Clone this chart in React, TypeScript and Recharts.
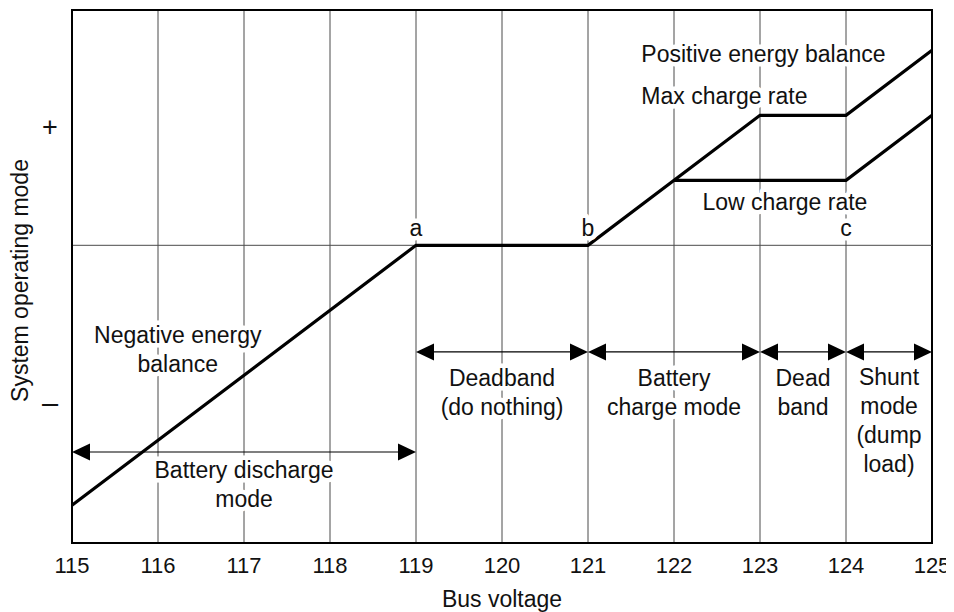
import React from 'react';
import {
  LineChart,
  Line,
  XAxis,
  YAxis,
  CartesianGrid,
  ReferenceLine,
  ReferenceArea,
  ReferenceDot,
} from 'recharts';

// bus voltage ticks
const voltageTicks = [115, 116, 117, 118, 119, 120, 121, 122, 123, 124, 125];

// upper curve: negative balance -> deadband -> charge -> max rate -> positive balance
const upperVoltage = [115, 119, 121, 123, 124, 125];
const upperMode = [-4, 0, 0, 2, 2, 3];

// lower curve: low charge rate branch
const lowerVoltage = [122, 124, 125];
const lowerMode = [1, 1, 2];

// mode bands (arrows)
const bandStart = [115, 119, 121, 123, 124];
const bandEnd = [119, 121, 123, 124, 125];
const bandLevel = [-3.18, -1.64, -1.64, -1.64, -1.64];

// +/- marks on the vertical axis
const modeTicks = [1.82, -2.42];
const modeTickText = ['+', '\u2013'];

const Y_DOMAIN: [number, number] = [-4.58, 3.62];

const upperData = upperVoltage.map((x, i) => ({ x, y: upperMode[i] }));
const lowerData = lowerVoltage.map((x, i) => ({ x, y: lowerMode[i] }));

// text notes placed in chart units
const notes = [
  { x: 119, y: 0.27, lines: ['a'], anchor: 'middle' },
  { x: 121, y: 0.27, lines: ['b'], anchor: 'middle' },
  { x: 124, y: 0.27, lines: ['c'], anchor: 'middle' },
  { x: 121.62, y: 2.95, lines: ['Positive energy balance'], anchor: 'start' },
  { x: 121.62, y: 2.29, lines: ['Max charge rate'], anchor: 'start' },
  { x: 123.29, y: 0.67, lines: ['Low charge rate'], anchor: 'middle' },
  { x: 116.23, y: -1.61, lines: ['Negative energy', 'balance'], anchor: 'middle' },
  { x: 117.0, y: -3.68, lines: ['Battery discharge', 'mode'], anchor: 'middle' },
  { x: 120.0, y: -2.26, lines: ['Deadband', '(do nothing)'], anchor: 'middle' },
  { x: 122.0, y: -2.26, lines: ['Battery', 'charge mode'], anchor: 'middle' },
  { x: 123.5, y: -2.26, lines: ['Dead', 'band'], anchor: 'middle' },
  { x: 124.5, y: -2.7, lines: ['Shunt', 'mode', '(dump', 'load)'], anchor: 'middle' },
];

const FONT = '"Liberation Sans", Arial, Helvetica, sans-serif';
const LINE_GAP = 29;

const makeNote = (lines: string[], anchor: string) => (props: any) => {
  const { cx, cy } = props;
  const top = cy - ((lines.length - 1) * LINE_GAP) / 2;
  return (
    <g>
      {lines.map((t, i) => (
        <text
          key={i}
          x={cx}
          y={top + i * LINE_GAP}
          textAnchor={anchor}
          dominantBaseline="central"
          fontFamily={FONT}
          fontSize={23}
          fill="#111"
          stroke="#fff"
          strokeWidth={9}
          strokeLinejoin="round"
          paintOrder="stroke"
        >
          {t}
        </text>
      ))}
    </g>
  );
};

const ArrowShape = (props: any) => {
  const { x1, y1, x2, y2 } = props;
  const len = 18;
  const half = 8.5;
  return (
    <g>
      <line x1={x1 + len} y1={y1} x2={x2 - len} y2={y2} stroke="#000" strokeWidth={1.2} />
      <polygon points={`${x1},${y1} ${x1 + len},${y1 - half} ${x1 + len},${y1 + half}`} fill="#000" />
      <polygon points={`${x2},${y2} ${x2 - len},${y2 - half} ${x2 - len},${y2 + half}`} fill="#000" />
    </g>
  );
};

const ModeTick = (props: any) => {
  const { y, payload } = props;
  const idx = modeTicks.indexOf(payload.value);
  const isPlus = idx === 0;
  return (
    <text
      x={42}
      y={y}
      textAnchor="middle"
      dominantBaseline="central"
      fontFamily={FONT}
      fontSize={isPlus ? 27 : 29}
      fill="#111"
    >
      {modeTickText[idx]}
    </text>
  );
};

const YLabel = (props: any) => {
  const { viewBox } = props;
  const cy = viewBox.y + viewBox.height / 2 + 4;
  return (
    <text
      x={12}
      y={cy}
      transform={`rotate(-90, 12, ${cy})`}
      textAnchor="middle"
      dominantBaseline="central"
      fontFamily={FONT}
      fontSize={23}
      fill="#111"
    >
      System operating mode
    </text>
  );
};

export default function App() {
  return (
    <div style={{ width: 946, height: 604, background: '#fff' }}>
      <LineChart width={946} height={604} margin={{ top: 2, right: 22, bottom: 0, left: 0 }}>
        <CartesianGrid horizontal={false} stroke="#4a4a4a" strokeWidth={1} />
        <XAxis
          dataKey="x"
          type="number"
          domain={[115, 125]}
          ticks={voltageTicks}
          allowDataOverflow
          height={69}
          tickLine={false}
          axisLine={{ stroke: '#000', strokeWidth: 2 }}
          tickMargin={8}
          tick={{ fontFamily: FONT, fontSize: 22, fill: '#111' }}
          label={{
            value: 'Bus voltage',
            position: 'insideBottom',
            offset: 5,
            style: { fontFamily: FONT, fontSize: 23, fill: '#111' },
          }}
        />
        <YAxis
          type="number"
          domain={Y_DOMAIN}
          ticks={modeTicks}
          allowDataOverflow
          width={64}
          tickLine={false}
          axisLine={{ stroke: '#000', strokeWidth: 2 }}
          tick={<ModeTick />}
          label={<YLabel />}
        />
        <ReferenceArea
          x1={115}
          x2={125}
          y1={Y_DOMAIN[0]}
          y2={Y_DOMAIN[1]}
          fill="none"
          stroke="#000"
          strokeWidth={2}
        />
        <ReferenceLine y={0} stroke="#4a4a4a" strokeWidth={1} />
        {bandStart.map((s, i) => (
          <ReferenceLine
            key={`band-${i}`}
            segment={[
              { x: s, y: bandLevel[i] },
              { x: bandEnd[i], y: bandLevel[i] },
            ]}
            shape={ArrowShape}
          />
        ))}
        {notes.map((n, i) => (
          <ReferenceDot key={`note-${i}`} x={n.x} y={n.y} r={0} shape={makeNote(n.lines, n.anchor)} />
        ))}
        <Line
          data={upperData}
          dataKey="y"
          type="linear"
          stroke="#000"
          strokeWidth={3.2}
          dot={false}
          isAnimationActive={false}
        />
        <Line
          data={lowerData}
          dataKey="y"
          type="linear"
          stroke="#000"
          strokeWidth={3.2}
          dot={false}
          isAnimationActive={false}
        />
      </LineChart>
    </div>
  );
}
